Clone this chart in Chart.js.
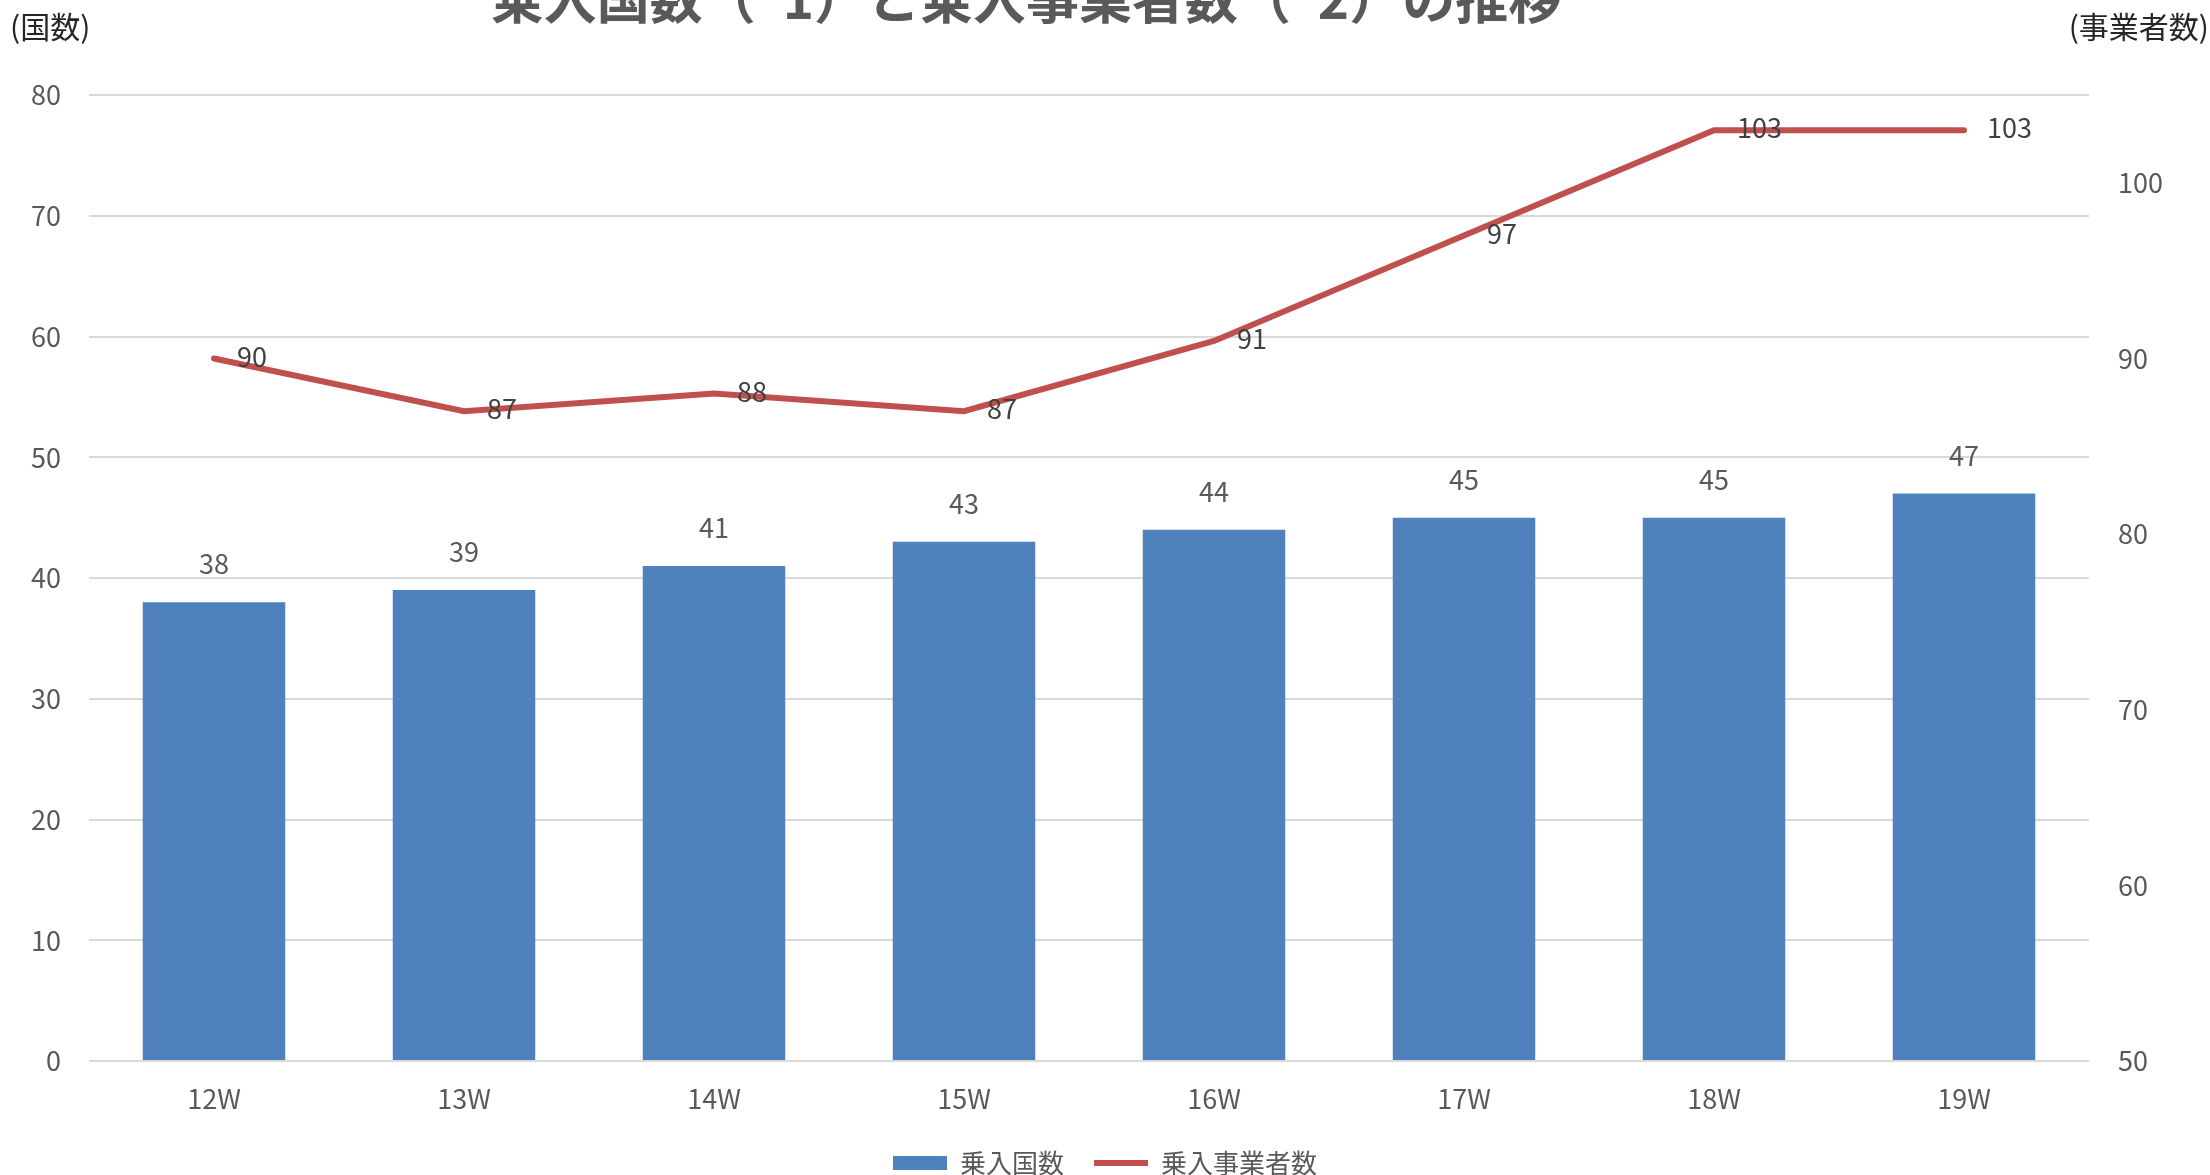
<!DOCTYPE html>
<html lang="ja">
<head>
<meta charset="utf-8">
<title>乗入国数と乗入事業者数の推移</title>
<script src="https://cdn.jsdelivr.net/npm/chart.js@4.4.1/dist/chart.umd.min.js"></script>
<style>
  html, body { margin: 0; padding: 0; background: #fff; }
  #chart { display: block; }
</style>
</head>
<body>
<canvas id="chart" width="2210" height="1175"></canvas>
<script>
// データ
const weeks = ['12W', '13W', '14W', '15W', '16W', '17W', '18W', '19W'];
const countries = [38, 39, 41, 43, 44, 45, 45, 47];   // 乗入国数
const carriers = [90, 87, 88, 87, 91, 97, 103, 103];   // 乗入事業者数
const leftTicks = [0, 10, 20, 30, 40, 50, 60, 70, 80];
const rightTicks = [50, 60, 70, 80, 90, 100];

const FONT = '"Noto Sans CJK JP", "Noto Sans", sans-serif';
const GRAY = '#595959';

// 値ラベル・タイトル・単位を描くプラグイン
const labelPlugin = {
  id: 'labels',
  afterDatasetsDraw(chart) {
    const ctx = chart.ctx;
    ctx.save();
    ctx.font = `27px ${FONT}`;
    ctx.fillStyle = GRAY;
    ctx.textBaseline = 'middle';

    // 棒の上
    ctx.textAlign = 'center';
    chart.getDatasetMeta(0).data.forEach((bar, i) => {
      ctx.fillText(countries[i], bar.x, bar.y - 38);
    });

    // 折れ線の右
    ctx.textAlign = 'left';
    ctx.fillStyle = '#404040';
    chart.getDatasetMeta(1).data.forEach((pt, i) => {
      ctx.fillText(carriers[i], pt.x + 23, pt.y - 2);
    });

    // 単位
    ctx.fillStyle = '#262626';
    ctx.font = `30px ${FONT}`;
    ctx.textAlign = 'left';
    ctx.fillText('(国数)', 10, 27);
    ctx.textAlign = 'right';
    ctx.fillText('(事業者数)', 2209, 27);

    // タイトル（上が切れている）
    ctx.fillStyle = GRAY;
    ctx.font = `bold 53px ${FONT}`;
    ctx.textAlign = 'center';
    ctx.fillText('乗入国数（*1）と乗入事業者数（*2）の推移', 1026, -1);
    ctx.restore();
  }
};

new Chart(document.getElementById('chart'), {
  data: {
    labels: weeks,
    datasets: [
      {
        type: 'bar',
        label: '乗入国数',
        data: countries,
        yAxisID: 'y',
        backgroundColor: '#4F81BD',
        borderWidth: 0,
        barPercentage: 0.57,
        categoryPercentage: 1,
        pointStyle: 'rect',
        order: 2
      },
      {
        type: 'line',
        label: '乗入事業者数',
        data: carriers,
        yAxisID: 'y1',
        borderColor: '#C0504D',
        backgroundColor: '#C0504D',
        borderWidth: 6,
        borderCapStyle: 'round',
        pointRadius: 0,
        tension: 0,
        pointStyle: 'line',
        order: 1
      }
    ]
  },
  options: {
    responsive: false,
    animation: false,
    devicePixelRatio: 1,
    layout: { padding: { top: 95, left: 0, right: 0, bottom: -11 } },
    plugins: {
      title: { display: false },
      tooltip: { enabled: false },
      legend: {
        position: 'bottom',
        labels: {
          usePointStyle: true,
          pointStyleWidth: 54,
          boxHeight: 14,
          padding: 30,
          color: GRAY,
          font: { family: FONT, size: 26 },
          sort: (a, b) => a.datasetIndex - b.datasetIndex
        }
      }
    },
    scales: {
      x: {
        grid: { display: false, drawTicks: false },
        border: { display: false },
        ticks: { color: GRAY, font: { family: FONT, size: 27 }, padding: 22 },
        afterFit(scale) { scale.height = 59; }
      },
      y: {
        position: 'left',
        min: 0,
        max: 80,
        afterBuildTicks(scale) { scale.ticks = leftTicks.map(v => ({ value: v })); },
        grid: { color: '#D9D9D9', lineWidth: 2, drawTicks: false },
        border: { display: false },
        ticks: { color: GRAY, font: { family: FONT, size: 27 }, padding: 28 },
        afterFit(scale) { scale.width = 89; }
      },
      y1: {
        position: 'right',
        min: 50,
        max: 105,
        afterBuildTicks(scale) { scale.ticks = rightTicks.map(v => ({ value: v })); },
        grid: { display: false, drawTicks: false },
        border: { display: false },
        ticks: { color: GRAY, font: { family: FONT, size: 27 }, padding: 29 },
        afterFit(scale) { scale.width = 121; }
      }
    }
  },
  plugins: [labelPlugin]
});
</script>
</body>
</html>
